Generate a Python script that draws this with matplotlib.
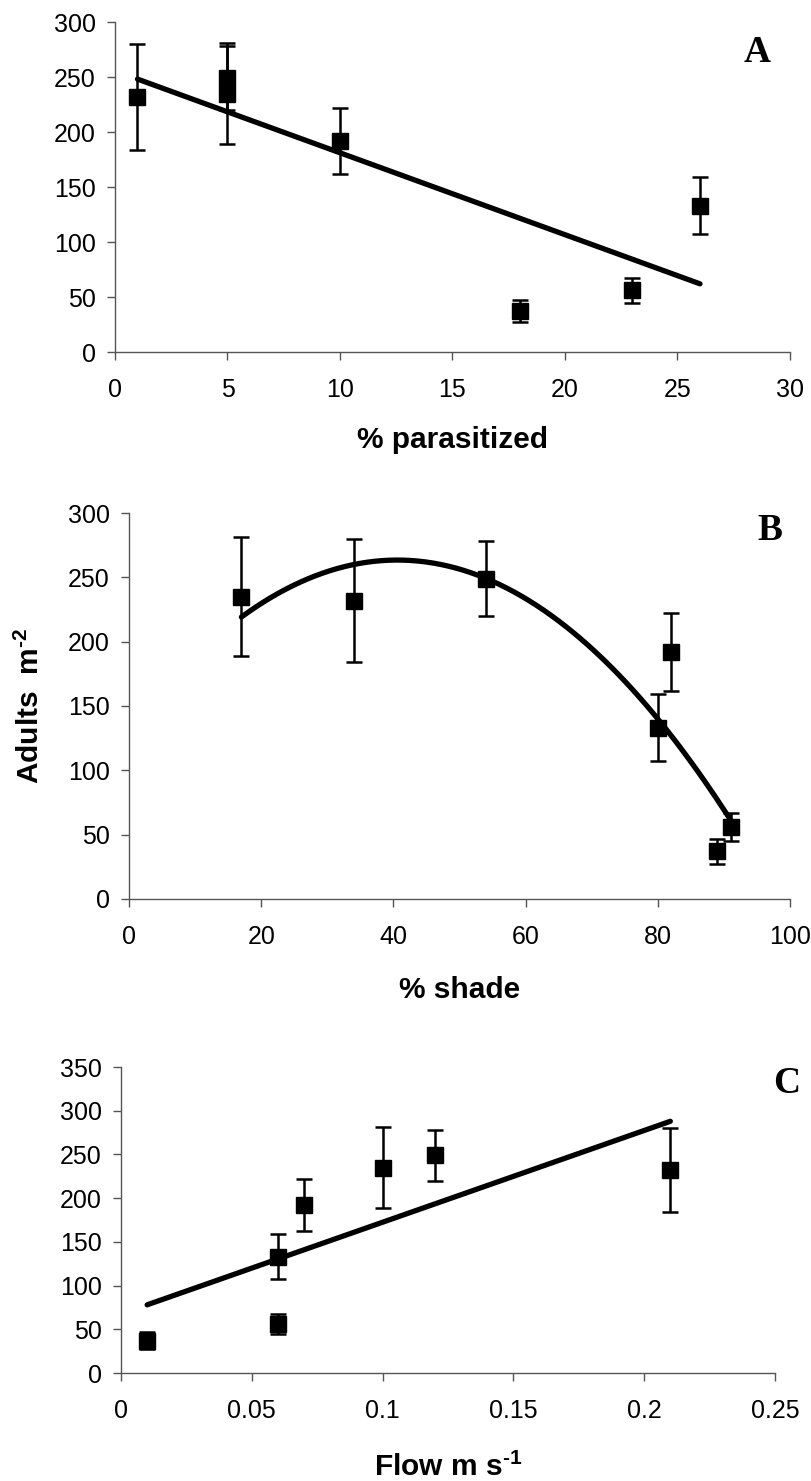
import numpy as np
import matplotlib
matplotlib.use("Agg")
import matplotlib.pyplot as plt

plt.rcParams['font.family'] = ['Liberation Sans', 'DejaVu Sans']
plt.rcParams['mathtext.fontset'] = 'custom'
plt.rcParams['mathtext.rm'] = 'Liberation Sans:bold'
plt.rcParams['mathtext.bf'] = 'Liberation Sans:bold'

# adults per m2 (mean and SE) at each site, repeated per panel in the x order used there
# panel A: % parasitized
para_x = [1, 5, 5, 10, 18, 23, 26]
para_y = [232, 249, 235, 192, 37, 56, 133]
para_se = [48, 29, 46, 30, 10, 11, 26]

# panel B: % shade
shade_x = [17, 34, 54, 80, 82, 89, 91]
shade_y = [235, 232, 249, 133, 192, 37, 56]
shade_se = [46, 48, 29, 26, 30, 10, 11]

# panel C: flow m/s
flow_x = [0.01, 0.06, 0.06, 0.07, 0.10, 0.12, 0.21]
flow_y = [37, 133, 56, 192, 235, 249, 232]
flow_se = [10, 26, 11, 30, 46, 29, 48]

a_xticks = [0, 5, 10, 15, 20, 25, 30]
b_xticks = [0, 20, 40, 60, 80, 100]
c_xticks = [0, 0.05, 0.1, 0.15, 0.2, 0.25]
c_xlabels = ['0', '0.05', '0.1', '0.15', '0.2', '0.25']

fig = plt.figure(figsize=(8.12, 14.81), dpi=100)

axA = fig.add_axes([0.1416, 0.7623, 0.8313, 0.2228])
axB = fig.add_axes([0.1589, 0.3930, 0.8140, 0.2606])
axC = fig.add_axes([0.1490, 0.0729, 0.8054, 0.2066])


def panel(ax, x, y, se, deg, xticks, xlabels, ylim, letter, letter_pos):
    x = np.array(x)
    coef = np.polyfit(x, y, deg)  # trend line = least-squares fit of the points
    xs = np.linspace(x.min(), x.max(), 200)
    ax.plot(xs, np.polyval(coef, xs), color='black', lw=3.8, zorder=2,
            solid_capstyle='round')
    ax.errorbar(x, y, yerr=se, fmt='s', color='black', ms=11,
                elinewidth=1.8, capsize=6, capthick=1.8, zorder=3)
    ax.set_xlim(xticks[0], xticks[-1])
    ax.set_ylim(0, ylim)
    ax.set_xticks(xticks)
    ax.set_xticklabels(xlabels)
    ax.set_yticks(np.arange(0, ylim + 1, 50))
    for s in ['top', 'right']:
        ax.spines[s].set_visible(False)
    for s in ['left', 'bottom']:
        ax.spines[s].set_color('#555555')
        ax.spines[s].set_linewidth(1.0)
    ax.tick_params(axis='both', direction='out', length=6, width=1.0,
                   color='#555555', labelsize=18)
    ax.tick_params(axis='x', pad=13)
    ax.tick_params(axis='y', pad=8)
    ax.text(letter_pos[0], letter_pos[1], letter, transform=ax.transAxes,
            family=['Liberation Serif', 'DejaVu Serif'], fontweight='bold',
            fontsize=27, ha='center', va='baseline')


panel(axA, para_x, para_y, para_se, 1, a_xticks, [str(t) for t in a_xticks],
      300, 'A', (0.951, 0.88))
panel(axB, shade_x, shade_y, shade_se, 2, b_xticks, [str(t) for t in b_xticks],
      300, 'B', (0.970, 0.93))
panel(axC, flow_x, flow_y, flow_se, 1, c_xticks, c_xlabels,
      350, 'C', (1.018, 0.915))

axA.set_xlabel('% parasitized', fontsize=21.5, fontweight='bold', va='baseline')
axA.xaxis.set_label_coords(0.5, -0.291)
axB.set_xlabel('% shade', fontsize=21.5, fontweight='bold', va='baseline')
axB.xaxis.set_label_coords(0.5, -0.256)
axC.set_xlabel(r'Flow m s$^{\text{-1}}$', fontsize=21.5, fontweight='bold', va='baseline')
axC.xaxis.set_label_coords(0.5, -0.337)
axB.set_ylabel(r'Adults  m$^{\text{-2}}$', fontsize=21.5, fontweight='bold', va='center')
axB.yaxis.set_label_coords(-0.150, 0.5)

fig.savefig('out.png', dpi=100)
